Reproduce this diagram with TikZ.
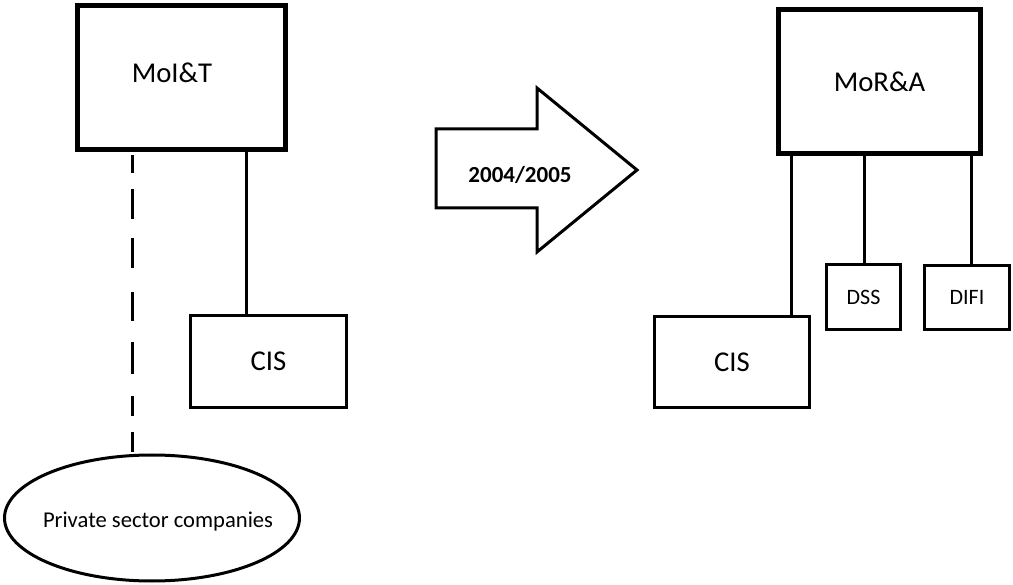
\documentclass[tikz,border=0pt]{standalone}
\usepackage{fontspec}
\setmainfont{Carlito}
\usetikzlibrary{shapes.geometric}
\begin{document}
\begin{tikzpicture}[x=1pt,y=-1pt,
  box/.style={draw, rectangle, line width=3pt, inner sep=0pt},
  headbox/.style={box, line width=5pt},
  link/.style={line width=3pt},
  bigtext/.style={font=\fontsize{28.7}{34}\selectfont},
  smalltext/.style={font=\fontsize{22}{26}\selectfont}]
\useasboundingbox (0,0) rectangle (1013,585);

% --- before: ministry and its units ---
\node[headbox, minimum width=208pt, minimum height=144pt,
      label={[bigtext, xshift=-9.5pt, yshift=4.5pt]center:MoI\&T}] (moit) at (181.5,77.5) {};
\node[box, bigtext, minimum width=156pt, minimum height=92pt] (cisL) at (268.5,361.5) {CIS};
\node[draw, ellipse, line width=3pt, inner sep=0pt, minimum width=295pt, minimum height=126pt,
      label={[font=\fontsize{22.6}{27}\selectfont, xshift=6pt, yshift=-4pt]center:Private sector companies}] (ell) at (152,518) {};

\coordinate (xA) at (246,0);
\coordinate (xB) at (132.5,0);
\draw[link] (moit.south -| xA) -- (cisL.north -| xA);
\draw[link, dash pattern=on 18pt off 16pt on 30pt off 19pt on 30pt off 24pt on 29pt off 21pt on 32pt off 22pt on 20pt off 16pt on 20pt off 3pt, dash phase=297pt]
  (moit.south -| xB) -- (ell.north -| xB);

% --- transition arrow ---
\draw[line width=3pt, line join=miter] (436,129) -- (537,129) -- (537,88) -- (637,170)
  -- (537,252) -- (537,208) -- (436,208) -- cycle;
\node[font=\fontsize{23}{27}\selectfont\bfseries] (year) at (520,175) {2004/2005};

% --- after: ministry and its units ---
\node[headbox, bigtext, minimum width=202pt, minimum height=144pt] (mora) at (879.5,81.5) {MoR\&A};
\node[box, bigtext, minimum width=155pt, minimum height=91pt] (cisR) at (732,362) {CIS};
\node[box, smalltext, minimum width=74pt, minimum height=65pt] (dss) at (863.5,297) {DSS};
\node[box, smalltext, minimum width=85pt, minimum height=64pt] (difi) at (967,297.5) {DIFI};

\coordinate (xC) at (791,0);
\coordinate (xD) at (864,0);
\coordinate (xE) at (971,0);
\draw[link] (mora.south -| xC) -- (cisR.north -| xC);
\draw[link] (mora.south -| xD) -- (dss.north -| xD);
\draw[link] (mora.south -| xE) -- (difi.north -| xE);
\end{tikzpicture}
\end{document}
